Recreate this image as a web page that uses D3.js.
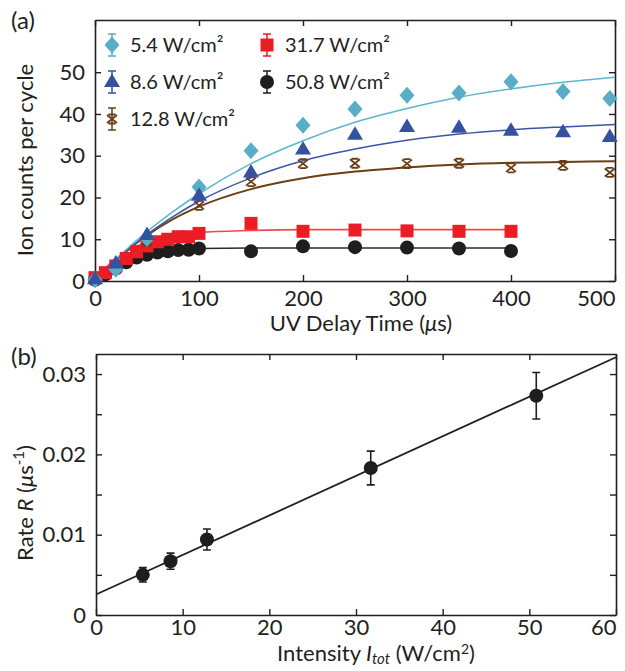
<!DOCTYPE html>
<html>
<head>
<meta charset="utf-8">
<script src="https://cdn.jsdelivr.net/npm/d3@7"></script>
<style>
body { margin:0; background:#fff; }
svg { font-family: Lato, "Open Sans", sans-serif; }
</style>
</head>
<body>
<div id="chart"></div>
<script>
// Panel (a): ion counts vs UV delay time
// ------------------------------------------
var timeSlow = [0, 20, 50, 100, 150, 200, 250, 300, 350, 400, 450, 495];
var counts54  = [0.3, 2.8, 10.2, 22.5, 31.2, 37.3, 41.2, 44.5, 45.0, 47.7, 45.4, 43.7];
var counts86  = [0.4, 4.2, 11.0, 20.4, 26.0, 31.5, 35.0, 36.9, 36.7, 36.0, 35.6, 34.5];
var counts128 = [0.2, 3.5, 9.5, 18.1, 23.8, 28.1, 28.2, 28.1, 28.2, 27.1, 27.7, 26.0];

var timeFast = [0, 10, 20, 30, 40, 50, 60, 70, 80, 90, 100, 150, 200, 250, 300, 350, 400];
var counts317 = [0.8, 2.0, 3.6, 5.4, 7.0, 8.4, 9.4, 10.0, 10.6, 10.6, 11.4, 13.8, 11.9, 12.2, 12.0, 11.9, 11.9];
var counts508 = [0.3, 1.6, 3.0, 4.5, 5.6, 6.3, 6.8, 7.1, 7.4, 7.5, 7.8, 7.1, 8.3, 8.1, 8.0, 7.8, 7.2];

// fitted curves, sampled off the figure
var fitTimeSlow = [0, 25, 50, 75, 100, 150, 200, 250, 300, 350, 400, 450, 500];
var fit54  = [0, 6.3, 11.8, 16.6, 20.9, 28.1, 33.6, 38.0, 41.3, 44.0, 46.0, 47.6, 48.8];
var fit86  = [0, 6.0, 11.1, 15.4, 19.1, 24.7, 28.8, 31.6, 33.7, 35.2, 36.2, 36.9, 37.5];
var fit128 = [0, 6.1, 10.9, 14.8, 17.8, 22.0, 24.6, 26.2, 27.2, 27.9, 28.3, 28.5, 28.7];
var fitTimeFast = [0, 10, 20, 30, 40, 50, 60, 80, 100, 150, 200, 300, 400];
var fit317 = [0, 3.1, 5.3, 7.1, 8.4, 9.3, 10.1, 11.0, 11.6, 12.1, 12.3, 12.3, 12.3];
var fit508 = [0, 2.6, 4.4, 5.5, 6.3, 6.8, 7.2, 7.6, 7.8, 7.9, 7.9, 7.9, 7.9];

var legendLabels = ["5.4 W/cm²", "8.6 W/cm²", "12.8 W/cm²", "31.7 W/cm²", "50.8 W/cm²"];
var timeTicks = [0, 100, 200, 300, 400, 500];
var countTicks = [0, 10, 20, 30, 40, 50];

// Panel (b): rate vs intensity
// ------------------------------------------
var intensity = [5.4, 8.6, 12.8, 31.7, 50.8];
var rate      = [0.0050, 0.0067, 0.0094, 0.0183, 0.0273];
var rateErr   = [0.0009, 0.0010, 0.0013, 0.0021, 0.0029];
var lineIntensity = [0, 60];
var lineRate      = [0.00255, 0.0321];
var intensityTicks = [0, 10, 20, 30, 40, 50, 60];
var rateTicks = [0, 0.005, 0.01, 0.015, 0.02, 0.025, 0.03];

var ink = "#231f20";

var svg = d3.select("#chart").append("svg")
	.attr("width", 625)
	.attr("height", 671);

// marker shapes, centred on 0,0
function drawMarker(g, kind, color) {
	if (kind == "diamond") {
		g.append("path").attr("d", "M0,-8.5L7.5,0L0,8.5L-7.5,0Z").attr("fill", color);
	} else if (kind == "triangle") {
		g.append("path").attr("d", "M0,-8.5L8,5L-8,5Z").attr("fill", color);
	} else if (kind == "square") {
		g.append("rect").attr("x", -6.5).attr("y", -6.5).attr("width", 13).attr("height", 13).attr("fill", color);
	} else if (kind == "circle") {
		g.append("circle").attr("r", 7).attr("fill", color);
	} else if (kind == "cross") {
		g.append("path").attr("d", "M-5,-4L5,4M-5,4L5,-4M-3.5,-4.5H3.5M-3.5,4.5H3.5")
			.attr("stroke", color).attr("stroke-width", 1.8).attr("fill", "none");
	}
}

// mirrored inward-tick frame
function frame(g, x, y, xTicks, yTicks, xFmt, yFmt, xPad) {
	var x0 = x.range()[0], x1 = x.range()[1], y0 = y.range()[0], y1 = y.range()[1];

	var bottom = g.append("g").attr("transform", "translate(0," + y0 + ")")
		.call(d3.axisBottom(x).tickValues(xTicks).tickSizeInner(-6).tickSizeOuter(0).tickPadding(xPad).tickFormat(xFmt));
	g.append("g").attr("transform", "translate(0," + y1 + ")")
		.call(d3.axisTop(x).tickValues(xTicks).tickSizeInner(-6).tickSizeOuter(0).tickFormat(""));
	g.append("g").attr("transform", "translate(" + x0 + ",0)")
		.call(d3.axisLeft(y).tickValues(yTicks).tickSizeInner(-6).tickSizeOuter(0).tickPadding(10).tickFormat(yFmt));
	g.append("g").attr("transform", "translate(" + x1 + ",0)")
		.call(d3.axisRight(y).tickValues(yTicks).tickSizeInner(-6).tickSizeOuter(0).tickFormat(""));

	g.selectAll(".domain").attr("stroke", ink).attr("stroke-width", 1.6);
	g.selectAll(".tick line").attr("stroke", ink).attr("stroke-width", 1.4);
	g.selectAll(".tick text").attr("font-family", "Lato, sans-serif").attr("font-size", 22).attr("fill", ink);

	// last x label sits flush with the right edge
	bottom.selectAll(".tick:last-of-type text").attr("text-anchor", "end").attr("x", 0);
}

// ======================= panel (a) =======================
var xA = d3.scaleLinear().domain([0, 500]).range([95, 615]);
var yA = d3.scaleLinear().domain([0, 62.5]).range([281, 20]);

var gA = svg.append("g");
frame(gA, xA, yA, timeTicks, countTicks, d3.format("d"), d3.format("d"), 9);

var seriesA = [
	{t: timeFast, y: counts508, ft: fitTimeFast, fy: fit508, kind: "circle",   color: "#1e1e1e", line: "#2b2b2b", width: 1.6},
	{t: timeFast, y: counts317, ft: fitTimeFast, fy: fit317, kind: "square",   color: "#ec1c24", line: "#f2474a", width: 1.6},
	{t: timeSlow, y: counts128, ft: fitTimeSlow, fy: fit128, kind: "cross",    color: "#6b3d14", line: "#6b3f13", width: 2},
	{t: timeSlow, y: counts54,  ft: fitTimeSlow, fy: fit54,  kind: "diamond",  color: "#5aadc6", line: "#5fb6d0", width: 1.6},
	{t: timeSlow, y: counts86,  ft: fitTimeSlow, fy: fit86,  kind: "triangle", color: "#3452a0", line: "#3b56a6", width: 1.5}
];

var fitLine = d3.line()
	.x(function(d) { return xA(d[0]); })
	.y(function(d) { return yA(d[1]); })
	.curve(d3.curveMonotoneX);

seriesA.forEach(function(s) {
	gA.append("path")
		.datum(d3.zip(s.ft, s.fy))
		.attr("d", fitLine)
		.attr("fill", "none")
		.attr("stroke", s.line)
		.attr("stroke-width", s.width);
});

seriesA.forEach(function(s) {
	gA.append("g").selectAll("g")
		.data(d3.zip(s.t, s.y))
		.enter().append("g")
		.attr("transform", function(d) { return "translate(" + xA(d[0]) + "," + yA(d[1]) + ")"; })
		.each(function() { drawMarker(d3.select(this), s.kind, s.color); });
});

// legend with error-bar glyphs
var legendKinds = ["diamond", "triangle", "cross", "square", "circle"];
var legendColors = ["#5aadc6", "#3452a0", "#6b3d14", "#ec1c24", "#1e1e1e"];
var legendPos = [[112, 45], [112, 82], [112, 119], [267, 45], [267, 82]];

legendLabels.forEach(function(label, i) {
	var lg = gA.append("g").attr("transform", "translate(" + legendPos[i][0] + "," + legendPos[i][1] + ")");
	lg.append("path")
		.attr("d", "M0,-11V11M-4,-11H4M-4,11H4")
		.attr("stroke", legendColors[i]).attr("stroke-width", 1.5).attr("fill", "none");
	drawMarker(lg, legendKinds[i], legendColors[i]);
	lg.append("text")
		.attr("x", 18).attr("y", 7)
		.attr("font-size", 20)
		.attr("fill", ink)
		.text(label);
});

svg.append("text").attr("x", 11).attr("y", 29).attr("font-size", 24).attr("fill", ink).text("(a)");

svg.append("text")
	.attr("transform", "translate(33,160) rotate(-90)")
	.attr("text-anchor", "middle")
	.attr("font-size", 22)
	.attr("fill", ink)
	.text("Ion counts per cycle");

var titleA = svg.append("text")
	.attr("x", 361).attr("y", 331)
	.attr("text-anchor", "middle")
	.attr("font-size", 22)
	.attr("fill", ink);
titleA.append("tspan").text("UV Delay Time (");
titleA.append("tspan").attr("font-style", "italic").text("μ");
titleA.append("tspan").text("s)");

// ======================= panel (b) =======================
var xB = d3.scaleLinear().domain([0, 60]).range([96, 616]);
var yB = d3.scaleLinear().domain([0, 0.0325]).range([615, 354]);

var gB = svg.append("g");
frame(gB, xB, yB, intensityTicks, rateTicks, d3.format("d"), function(d) {
	if (d == 0) return "0";
	if (Math.round(d * 1000) % 10 != 0) return "";
	return d3.format(".2f")(d);
}, 4);

gB.append("path")
	.datum(d3.zip(lineIntensity, lineRate))
	.attr("d", d3.line().x(function(d) { return xB(d[0]); }).y(function(d) { return yB(d[1]); }))
	.attr("stroke", ink)
	.attr("stroke-width", 1.8)
	.attr("fill", "none");

var pts = gB.append("g").selectAll("g")
	.data(d3.zip(intensity, rate, rateErr))
	.enter().append("g");

pts.append("path")
	.attr("d", function(d) {
		var x = xB(d[0]), ya = yB(d[1] + d[2]), yb = yB(d[1] - d[2]);
		return "M" + x + "," + ya + "V" + yb + "M" + (x - 4) + "," + ya + "H" + (x + 4) + "M" + (x - 4) + "," + yb + "H" + (x + 4);
	})
	.attr("stroke", ink)
	.attr("stroke-width", 1.6)
	.attr("fill", "none");

pts.append("circle")
	.attr("cx", function(d) { return xB(d[0]); })
	.attr("cy", function(d) { return yB(d[1]); })
	.attr("r", 7)
	.attr("fill", "#1e1e1e");

svg.append("text").attr("x", 11).attr("y", 365).attr("font-size", 24).attr("fill", ink).text("(b)");

var yTitleB = svg.append("text")
	.attr("transform", "translate(33,503) rotate(-90)")
	.attr("text-anchor", "middle")
	.attr("font-size", 22)
	.attr("fill", ink);
yTitleB.append("tspan").text("Rate ");
yTitleB.append("tspan").attr("font-style", "italic").text("R");
yTitleB.append("tspan").text(" (");
yTitleB.append("tspan").attr("font-style", "italic").text("μ");
yTitleB.append("tspan").text("s");
yTitleB.append("tspan").attr("font-size", 15).attr("baseline-shift", "super").text("-1");
yTitleB.append("tspan").text(")");

var xTitleB = svg.append("text")
	.attr("x", 376).attr("y", 661)
	.attr("text-anchor", "middle")
	.attr("font-size", 22)
	.attr("fill", ink);
xTitleB.append("tspan").text("Intensity ");
xTitleB.append("tspan").attr("font-style", "italic").text("I");
xTitleB.append("tspan").attr("font-style", "italic").attr("font-size", 15).attr("baseline-shift", "-3").text("tot");
xTitleB.append("tspan").text(" (W/cm");
xTitleB.append("tspan").attr("font-size", 14).attr("baseline-shift", "7").text("2");
xTitleB.append("tspan").text(")");
</script>
</body>
</html>
